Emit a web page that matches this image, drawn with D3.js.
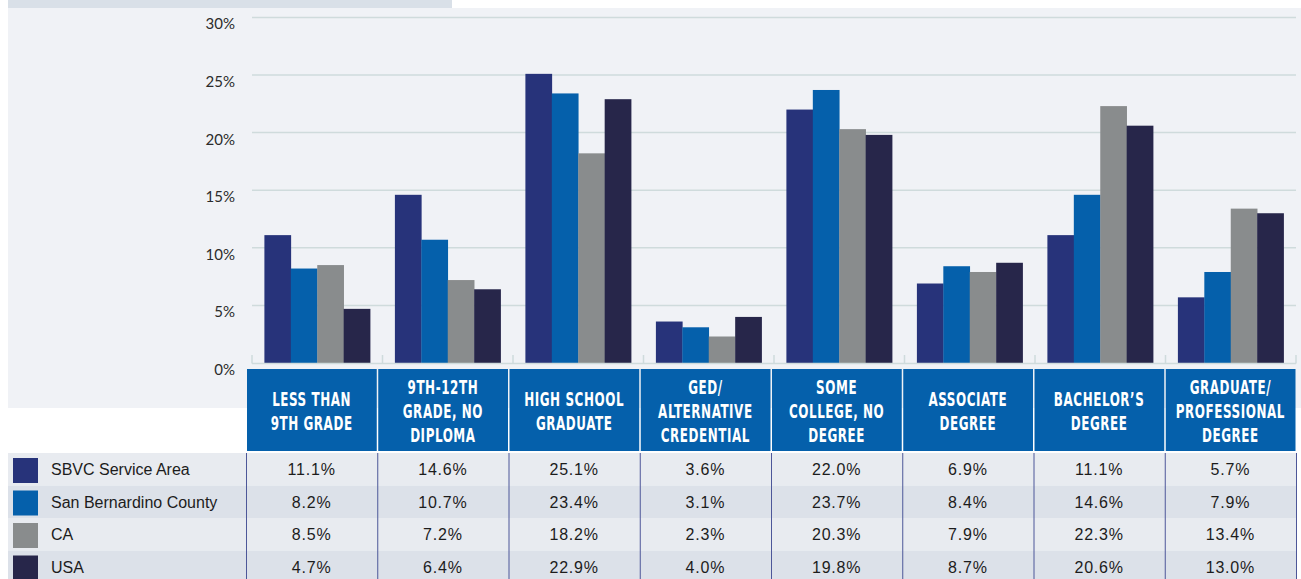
<!DOCTYPE html>
<html lang="en">
<head>
  <meta charset="utf-8" />
  <title>Educational attainment</title>
  <style>
    body { margin: 0; background: #fff; }
    svg { display: block; }
    .tick-label { font-family: Lato, "Open Sans", sans-serif; font-size: 15px; fill: #2b2b2b; }
    .head { font-family: "DejaVu Sans Condensed", "Liberation Sans Narrow", sans-serif; font-weight: bold; font-size: 19px; fill: #fff; letter-spacing: 0.8px; }
    .cell { font-family: "Liberation Sans", Arial, sans-serif; font-size: 16px; fill: #1c1c1c; }
    .val { letter-spacing: 0.8px; }
  </style>
</head>
<body>
<svg id="chart" width="1301" height="579"></svg>
<script src="https://d3js.org/d3.v7.min.js"></script>
<script>
  // datos
  const categories = [
    ["LESS THAN", "9TH GRADE"],
    ["9TH-12TH", "GRADE, NO", "DIPLOMA"],
    ["HIGH SCHOOL", "GRADUATE"],
    ["GED/", "ALTERNATIVE", "CREDENTIAL"],
    ["SOME", "COLLEGE, NO", "DEGREE"],
    ["ASSOCIATE", "DEGREE"],
    ["BACHELOR’S", "DEGREE"],
    ["GRADUATE/", "PROFESSIONAL", "DEGREE"]
  ];
  const seriesNames = ["SBVC Service Area", "San Bernardino County", "CA", "USA"];
  const sbvc   = [11.1, 14.6, 25.1, 3.6, 22.0, 6.9, 11.1, 5.7];
  const county = [8.2, 10.7, 23.4, 3.1, 23.7, 8.4, 14.6, 7.9];
  const ca     = [8.5, 7.2, 18.2, 2.3, 20.3, 7.9, 22.3, 13.4];
  const usa    = [4.7, 6.4, 22.9, 4.0, 19.8, 8.7, 20.6, 13.0];
  const yTicks = [0, 5, 10, 15, 20, 25, 30];

  const seriesValues = [sbvc, county, ca, usa];
  const colors = ["#27337a", "#0560ab", "#898c8d", "#27264a"];

  const svg = d3.select("#chart");
  const idx = d3.range(categories.length);

  // fondo
  svg.append("rect").attr("x", 8).attr("y", 0).attr("width", 444).attr("height", 8).attr("fill", "#d9e0e8");
  svg.append("rect").attr("x", 8).attr("y", 8).attr("width", 1293).attr("height", 400).attr("fill", "#f0f2f6");

  // escalas
  const y = d3.scaleLinear().domain([0, 30]).range([363, 17.4]);
  const x0 = d3.scaleBand().domain(idx).range([252, 1296]).paddingInner(0.19).paddingOuter(0.095);
  const x1 = d3.scaleBand().domain(d3.range(seriesNames.length)).range([0, x0.bandwidth()]);
  const step = x0.step();

  // grilla
  svg.append("g").selectAll("line").data(yTicks.filter(d => d > 0)).join("line")
    .attr("x1", 252).attr("x2", 1296)
    .attr("y1", d => y(d)).attr("y2", d => y(d))
    .attr("stroke", "#cfdbdc").attr("stroke-width", 1.5);

  svg.append("g").selectAll("text").data(yTicks).join("text")
    .attr("class", "tick-label")
    .attr("x", 235).attr("y", d => y(d) + 12)
    .attr("text-anchor", "end")
    .text(d => d + "%");

  // barras
  svg.append("g").selectAll("g").data(idx).join("g")
    .attr("transform", i => `translate(${x0(i)},0)`)
    .selectAll("rect")
    .data(i => seriesValues.map((vals, s) => ({ s, v: vals[i] })))
    .join("rect")
    .attr("x", d => x1(d.s))
    .attr("width", x1.bandwidth() + 0.3)
    .attr("y", d => y(d.v))
    .attr("height", d => y(0) - y(d.v))
    .attr("fill", d => colors[d.s]);

  // eje base
  svg.append("line").attr("x1", 252).attr("x2", 1296).attr("y1", 363.5).attr("y2", 363.5)
    .attr("stroke", "#cfdbdc").attr("stroke-width", 1.5);
  svg.append("g").selectAll("line").data(d3.range(categories.length + 1)).join("line")
    .attr("x1", i => 252 + i * step).attr("x2", i => 252 + i * step)
    .attr("y1", 355).attr("y2", 363.5)
    .attr("stroke", "#cfdbdc").attr("stroke-width", 1.5);

  // tabla
  const col = d3.scaleBand().domain(idx).range([246, 1296]);
  const rowY = d3.scaleBand().domain(d3.range(seriesNames.length)).range([453, 583]);

  const head = svg.append("g").selectAll("g").data(idx).join("g");
  head.append("rect")
    .attr("x", i => col(i) + 1).attr("y", 369)
    .attr("width", col.bandwidth() - 1.5).attr("height", 82)
    .attr("fill", "#0560ab");
  head.each(function (i) {
    const lines = categories[i];
    const cx = col(i) + col.bandwidth() / 2;
    const top = 411 - (lines.length - 1) * 12;
    d3.select(this).selectAll("text").data(lines).join("text")
      .attr("class", "head")
      .attr("transform", (d, k) => `translate(${cx},${top + k * 24 + 7}) scale(0.7,1)`)
      .attr("text-anchor", "middle")
      .text(d => d);
  });

  const rows = svg.append("g").selectAll("g").data(seriesNames).join("g")
    .attr("transform", (d, s) => `translate(0,${rowY(s)})`);
  rows.append("rect")
    .attr("x", 8).attr("width", 1288).attr("height", rowY.bandwidth())
    .attr("fill", (d, s) => s % 2 ? "#dce1e9" : "#e8ebf0");
  rows.append("rect")
    .attr("x", 13).attr("y", 5).attr("width", 25).attr("height", 25)
    .attr("fill", (d, s) => colors[s]);
  rows.append("text")
    .attr("class", "cell")
    .attr("x", 51).attr("y", rowY.bandwidth() / 2 + 6)
    .text(d => d);
  rows.each(function (name, s) {
    d3.select(this).selectAll("text.val").data(seriesValues[s]).join("text")
      .attr("class", "cell val")
      .attr("x", (d, i) => col(i) + col.bandwidth() / 2)
      .attr("y", rowY.bandwidth() / 2 + 6)
      .attr("text-anchor", "middle")
      .text(d => d.toFixed(1) + "%");
  });

  svg.append("g").selectAll("line").data(d3.range(categories.length + 1)).join("line")
    .attr("x1", i => 246 + i * col.step() + 0.5).attr("x2", i => 246 + i * col.step() + 0.5)
    .attr("y1", 453).attr("y2", 579)
    .attr("stroke", "#4d5799").attr("stroke-width", 1);
</script>
</body>
</html>
